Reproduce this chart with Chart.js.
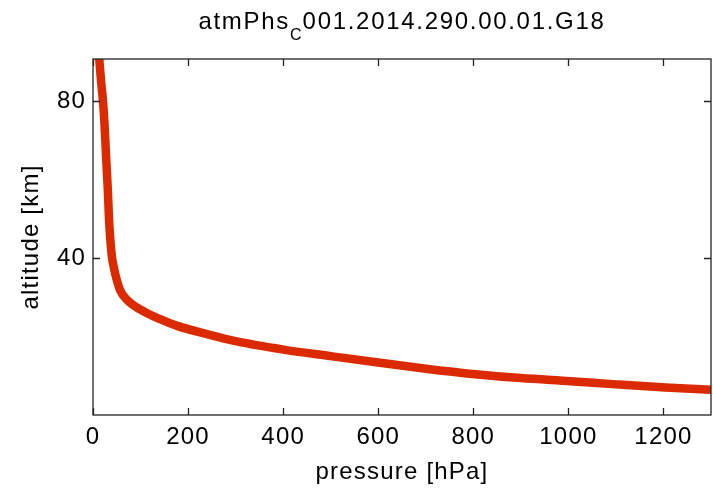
<!DOCTYPE html>
<html>
<head>
<meta charset="utf-8">
<script src="https://cdn.jsdelivr.net/npm/chart.js@4"></script>
<style>
body { margin: 0; background: #fff; }
#wrap { position: relative; width: 713px; height: 488px; }
#title { position: absolute; left: 93px; width: 618px; top: 7px; text-align: center;
  font: 24px "Liberation Sans", Arial, sans-serif; letter-spacing: 1.7px; color: #000; white-space: nowrap; }
#title sub { font-size: 16px; vertical-align: -11px; line-height: 0; letter-spacing: 0; margin-right: 1px; }
</style>
</head>
<body>
<div id="wrap">
  <canvas id="c" width="713" height="488"></canvas>
  <div id="title">atmPhs<sub>C</sub>001.2014.290.00.01.G18</div>
</div>
<script>
// values
var pressure = [13, 17, 21, 24, 27.4, 31, 34, 36.5, 39.5, 44, 50, 57, 71, 99, 141, 177, 240, 300, 404, 500, 604, 700, 804, 900, 1004, 1100, 1204, 1300];
var altitude = [91, 85, 80, 74.6, 66.2, 57.8, 49.2, 44.6, 40.6, 37.5, 34.4, 31.8, 29.4, 26.9, 24.4, 22.7, 20.6, 18.8, 16.6, 15.0, 13.3, 11.8, 10.4, 9.4, 8.6, 7.8, 7.0, 6.4];
var xTicks = [0, 200, 400, 600, 800, 1000, 1200];
var yTicks = [40, 80];

var points = pressure.map(function (p, i) { return { x: p, y: altitude[i] }; });
var fontFamily = '"Liberation Sans", Arial, sans-serif';

// the reference text is set a bit wider than Arial
var spacingPlugin = {
    id: 'spacing',
    beforeUpdate: function (chart) { chart.ctx.letterSpacing = '1.2px'; },
    beforeDraw: function (chart) { chart.ctx.letterSpacing = '1.2px'; }
};

// MATLAB-like box with inward tick marks on all four sides
var boxPlugin = {
    id: 'boxTicks',
    afterDraw: function (chart) {
        var ctx = chart.ctx, a = chart.chartArea;
        var xs = chart.scales.x, ys = chart.scales.y;
        var len = 7;
        ctx.save();
        ctx.strokeStyle = '#222';
        ctx.lineWidth = 1.3;
        ctx.strokeRect(a.left, a.top, a.right - a.left, a.bottom - a.top);
        ctx.beginPath();
        xTicks.forEach(function (v) {
            var px = Math.round(xs.getPixelForValue(v)) + 0.5;
            ctx.moveTo(px, a.bottom); ctx.lineTo(px, a.bottom - len);
            ctx.moveTo(px, a.top); ctx.lineTo(px, a.top + len);
        });
        yTicks.forEach(function (v) {
            var py = Math.round(ys.getPixelForValue(v)) + 0.5;
            ctx.moveTo(a.left, py); ctx.lineTo(a.left + len, py);
            ctx.moveTo(a.right, py); ctx.lineTo(a.right - len, py);
        });
        ctx.stroke();
        ctx.restore();
    }
};

new Chart(document.getElementById('c'), {
    type: 'scatter',
    data: {
        datasets: [{
            data: points,
            showLine: true,
            borderColor: '#dc2a00',
            backgroundColor: '#dc2a00',
            borderWidth: 8.5,
            pointRadius: 0,
            cubicInterpolationMode: 'monotone',
            clip: 0
        }]
    },
    options: {
        responsive: false,
        animation: false,
        layout: { padding: { top: 59, right: 2, left: 0, bottom: 0 } },
        plugins: {
            legend: { display: false },
            title: { display: false },
            tooltip: { enabled: false }
        },
        scales: {
            x: {
                type: 'linear',
                min: 0,
                max: 1300,
                afterBuildTicks: function (scale) {
                    scale.ticks = xTicks.map(function (v) { return { value: v }; });
                },
                afterFit: function (scale) { scale.height = 73; },
                grid: { display: false, drawTicks: false },
                border: { display: false },
                ticks: {
                    color: '#000', padding: 8, maxRotation: 0,
                    font: { family: fontFamily, size: 24 },
                    callback: function (v) { return String(v); }
                },
                title: {
                    display: true,
                    text: 'pressure [hPa]',
                    color: '#000',
                    padding: { top: 0, bottom: 1 },
                    font: { family: fontFamily, size: 24 }
                }
            },
            y: {
                type: 'linear',
                min: 0,
                max: 90.7,
                afterBuildTicks: function (scale) {
                    scale.ticks = yTicks.map(function (v) { return { value: v }; });
                },
                afterFit: function (scale) { scale.width = 93; },
                grid: { display: false, drawTicks: false },
                border: { display: false },
                ticks: {
                    color: '#000', padding: 7,
                    font: { family: fontFamily, size: 24 },
                    callback: function (v) { return String(v); }
                },
                title: {
                    display: true,
                    text: 'altitude [km]',
                    color: '#000',
                    padding: { top: 17, bottom: 0 },
                    font: { family: fontFamily, size: 24 }
                }
            }
        }
    },
    plugins: [spacingPlugin, boxPlugin]
});
</script>
</body>
</html>
